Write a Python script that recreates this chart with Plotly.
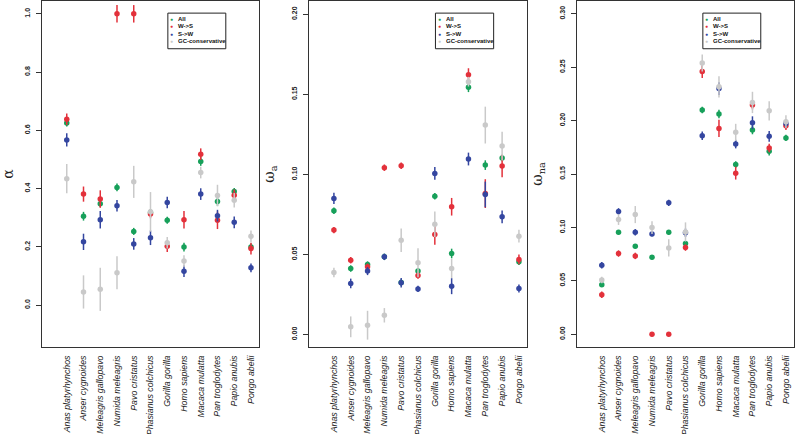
import plotly.graph_objects as go

species = ["Anas platyrhynchos", "Anser cygnoides", "Meleagris gallopavo", "Numida meleagris",
           "Pavo cristatus", "Phasianus colchicus", "Gorilla gorilla", "Homo sapiens",
           "Macaca mulatta", "Pan troglodytes", "Papio anubis", "Pongo abelii"]

series_names = ["All", "W->S", "S->W", "GC-conservative"]
series_colors = ["#17a05a", "#e3313b", "#3446a0", "#c9c9c9"]

# alpha
alpha_all = [0.625, 0.305, 0.348, 0.404, 0.253, 0.318, 0.291, 0.199, 0.493, 0.356, 0.390, 0.199]
alpha_all_err = [0.012, 0.015, 0.012, 0.013, 0.012, 0.012, 0.012, 0.015, 0.015, 0.015, 0.012, 0.012]
alpha_ws = [0.638, 0.381, 0.364, 1.0, 1.0, 0.313, 0.202, 0.293, 0.518, 0.291, 0.377, 0.194]
alpha_ws_err = [0.02, 0.026, 0.03, 0.03, 0.03, 0.015, 0.02, 0.03, 0.02, 0.03, 0.02, 0.02]
alpha_sw = [0.567, 0.217, 0.293, 0.341, 0.210, 0.231, 0.352, 0.116, 0.381, 0.307, 0.284, 0.128]
alpha_sw_err = [0.023, 0.028, 0.03, 0.02, 0.02, 0.025, 0.02, 0.02, 0.02, 0.02, 0.02, 0.015]
alpha_gc = [0.434, 0.045, 0.054, 0.111, 0.423, 0.320, 0.214, 0.151, 0.455, 0.376, 0.360, 0.236]
alpha_gc_err = [0.05, 0.057, 0.074, 0.057, 0.055, 0.068, 0.02, 0.02, 0.02, 0.037, 0.025, 0.02]

# omega_a
wa_all = [0.0773, 0.0412, 0.0437, 0.0485, 0.0325, 0.0396, 0.0864, 0.0506, 0.1544, 0.1058, 0.1102, 0.0454]
wa_all_err = [0.002, 0.002, 0.002, 0.002, 0.002, 0.002, 0.002, 0.003, 0.003, 0.003, 0.002, 0.002]
wa_ws = [0.0652, 0.0464, 0.0423, 0.1042, 0.1054, 0.0369, 0.0625, 0.0798, 0.1623, 0.0880, 0.1052, 0.0469]
wa_ws_err = [0.002, 0.002, 0.002, 0.002, 0.002, 0.002, 0.0065, 0.0055, 0.004, 0.009, 0.007, 0.003]
wa_sw = [0.0850, 0.0319, 0.0396, 0.0485, 0.0323, 0.0285, 0.1006, 0.0302, 0.1096, 0.0875, 0.0735, 0.0287]
wa_sw_err = [0.0035, 0.003, 0.0025, 0.002, 0.003, 0.002, 0.004, 0.005, 0.004, 0.008, 0.004, 0.0025]
wa_gc = [0.0387, 0.0048, 0.0058, 0.0120, 0.0589, 0.0448, 0.0689, 0.0412, 0.1579, 0.1308, 0.1177, 0.0614]
wa_gc_err = [0.003, 0.0065, 0.009, 0.0045, 0.0073, 0.009, 0.008, 0.006, 0.003, 0.0115, 0.009, 0.004]

# omega_na
wna_all = [0.0463, 0.0954, 0.0824, 0.0721, 0.0954, 0.0849, 0.2099, 0.2061, 0.1589, 0.1912, 0.1713, 0.1838]
wna_all_err = [0.002, 0.002, 0.002, 0.002, 0.002, 0.002, 0.003, 0.004, 0.003, 0.004, 0.004, 0.003]
wna_ws = [0.0370, 0.0755, 0.0733, 0.0, 0.0, 0.0811, 0.2459, 0.1927, 0.1508, 0.2145, 0.1744, 0.1952]
wna_ws_err = [0.003, 0.003, 0.003, 0.002, 0.002, 0.003, 0.006, 0.008, 0.006, 0.004, 0.004, 0.004]
wna_sw = [0.0646, 0.1150, 0.0954, 0.0938, 0.1230, 0.0949, 0.1859, 0.2300, 0.1780, 0.1980, 0.1853, 0.1974]
wna_sw_err = [0.003, 0.003, 0.003, 0.002, 0.003, 0.004, 0.004, 0.006, 0.004, 0.006, 0.005, 0.004]
wna_gc = [0.0507, 0.1073, 0.1120, 0.0998, 0.0808, 0.0957, 0.2540, 0.2316, 0.1890, 0.2170, 0.2092, 0.1990]
wna_gc_err = [0.003, 0.005, 0.008, 0.006, 0.008, 0.009, 0.008, 0.01, 0.008, 0.01, 0.009, 0.006]

alpha_ticks = [0.0, 0.2, 0.4, 0.6, 0.8, 1.0]
wa_ticks = [0.00, 0.05, 0.10, 0.15, 0.20]
wna_ticks = [0.00, 0.05, 0.10, 0.15, 0.20, 0.25, 0.30]

panels = [
    dict(title="α", vals=[(alpha_all, alpha_all_err), (alpha_ws, alpha_ws_err), (alpha_sw, alpha_sw_err), (alpha_gc, alpha_gc_err)],
         yrange=[-0.144, 1.044], ticks=alpha_ticks, fmt=".1f", dom=[0.0528, 0.3258]),
    dict(title="ω<sub>a</sub>", vals=[(wa_all, wa_all_err), (wa_ws, wa_ws_err), (wa_sw, wa_sw_err), (wa_gc, wa_gc_err)],
         yrange=[-0.0078, 0.2083], ticks=wa_ticks, fmt=".2f", dom=[0.3887, 0.6629]),
    dict(title="ω<sub>na</sub>", vals=[(wna_all, wna_all_err), (wna_ws, wna_ws_err), (wna_sw, wna_sw_err), (wna_gc, wna_gc_err)],
         yrange=[-0.012, 0.312], ticks=wna_ticks, fmt=".2f", dom=[0.7258, 0.9987]),
]

fig = go.Figure()
layout = {}
annotations = []
shapes = []
axis_col = "#333333"
for i, p in enumerate(panels):
    sfx = "" if i == 0 else str(i + 1)
    for (v, e), name, col in zip(p["vals"], series_names, series_colors):
        fig.add_trace(go.Scatter(
            x=species, y=v, mode="markers", name=name, showlegend=False,
            marker=dict(color=col, size=5.5),
            error_y=dict(type="data", array=e, width=0, thickness=1.5, color=col),
            xaxis="x" + sfx, yaxis="y" + sfx))
    layout["xaxis" + sfx] = dict(
        domain=p["dom"], anchor="y" + sfx, type="category", categoryorder="array",
        categoryarray=species, range=[-1.48, 11.48], showline=True, mirror=True,
        linecolor=axis_col, linewidth=1, ticks="", tickangle=-90, showgrid=False,
        tickfont=dict(family="Liberation Sans, Arial", size=8.8, style="italic", color="#222"),
        ticklabelstandoff=4)
    layout["yaxis" + sfx] = dict(
        domain=[0, 1], anchor="x" + sfx, range=p["yrange"], tickvals=p["ticks"],
        tickformat=p["fmt"], showline=True, mirror=True, linecolor=axis_col, linewidth=1,
        ticks="outside", ticklen=5, tickcolor=axis_col, tickangle=-90, showgrid=False,
        zeroline=False, ticklabelstandoff=3,
        tickfont=dict(family="Liberation Sans, Arial", size=7, weight="bold", color="#222"),
        title=dict(text=p["title"], standoff=13,
                   font=dict(family="DejaVu Serif, Liberation Serif", size=14, color="#222")))
    # legend box
    xr = "x" + sfx + " domain"
    yr = "y" + sfx + " domain"
    shapes.append(dict(type="rect", xref=xr, yref=yr, x0=0.58, x1=0.847, y0=0.862, y1=0.965,
                       line=dict(color="#222", width=1), fillcolor="white"))
    ys = [0.948, 0.927, 0.906, 0.885]
    for name, col, yy in zip(series_names, series_colors, ys):
        annotations.append(dict(xref=xr, yref=yr, x=0.598, y=yy, text="●", showarrow=False,
                                xanchor="center", yanchor="middle",
                                font=dict(size=5, color=col)))
        annotations.append(dict(xref=xr, yref=yr, x=0.618, y=yy, text=name, showarrow=False,
                                xanchor="left", yanchor="middle",
                                font=dict(family="Liberation Sans, Arial", size=6, weight="bold", color="#111")))

fig.update_layout(**layout)
fig.update_layout(
    width=795, height=434, margin=dict(l=0, r=0, t=1, b=87),
    paper_bgcolor="white", plot_bgcolor="white", showlegend=False,
    annotations=annotations, shapes=shapes)
fig.write_html("out.html", config={"displayModeBar": False},
               post_script="document.body.style.margin='0px';")
